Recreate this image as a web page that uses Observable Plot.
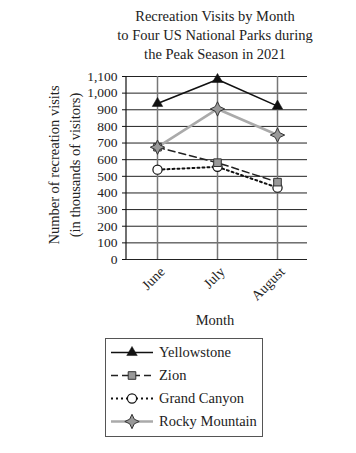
<!DOCTYPE html>
<html>
<head>
<meta charset="utf-8">
<script src="https://cdn.jsdelivr.net/npm/d3@7"></script>
<script src="https://cdn.jsdelivr.net/npm/@observablehq/plot@0.6"></script>
<style>
  html, body { margin: 0; padding: 0; background: #fff; }
  #wrap { position: relative; width: 356px; height: 453px; font-family: "Liberation Serif", serif; color: #222; overflow: hidden; }
  #title { position: absolute; left: 75px; top: 7px; width: 280px; text-align: center; font-family: "Liberation Serif", serif; font-size: 14.5px; line-height: 19px; white-space: nowrap; color: #222; }
  #chart { position: absolute; left: 0; top: 60px; }
  #chart svg, #chart svg text { font-family: "Liberation Serif", serif !important; }
  #legend { position: absolute; left: 105px; top: 338px; width: 158px; height: 99px; box-sizing: border-box; border: 1px solid #555; padding-top: 2px; }
  .row { position: relative; height: 23px; }
  .row svg { position: absolute; left: 5px; top: 0; }
  .row span { position: absolute; left: 53px; top: 2px; font-family: "Liberation Serif", serif; font-size: 14.5px; line-height: 19px; white-space: nowrap; color: #222; }
</style>
</head>
<body>
<div id="wrap">
  <div id="title">Recreation Visits by Month<br>to Four US National Parks during<br>the Peak Season in 2021</div>
  <div id="chart"></div>
  <div id="legend"></div>
</div>
<script>
const months = ["June", "July", "August"];
const yellowstone = [938, 1082, 922];
const zion = [675, 582, 465];
const grandCanyon = [540, 557, 432];
const rockyMountain = [675, 905, 748];
const yTicks = [0, 100, 200, 300, 400, 500, 600, 700, 800, 900, 1000, 1100];
const parkNames = ["Yellowstone", "Zion", "Grand Canyon", "Rocky Mountain"];
const yLabel = "Number of recreation visits\n(in thousands of visitors)";
const xLabel = "Month";

const star4 = {
  draw(ctx, size) {
    const r = Math.sqrt(size) * 0.78;
    const ri = r * 0.32;
    ctx.moveTo(0, -r); ctx.lineTo(ri, -ri); ctx.lineTo(r, 0); ctx.lineTo(ri, ri);
    ctx.lineTo(0, r); ctx.lineTo(-ri, ri); ctx.lineTo(-r, 0); ctx.lineTo(-ri, -ri);
    ctx.closePath();
  }
};

const toRows = (vals) => months.map((m, i) => ({month: m, value: vals[i]}));
const series = {
  "Yellowstone": toRows(yellowstone),
  "Zion": toRows(zion),
  "Grand Canyon": toRows(grandCanyon),
  "Rocky Mountain": toRows(rockyMountain)
};

const styles = {
  "Yellowstone": {line: {stroke: "#111", strokeWidth: 1.6}, dot: {symbol: "triangle", r: 3.9, fill: "#111", stroke: "#111", strokeWidth: 0.5}},
  "Zion": {line: {stroke: "#222", strokeWidth: 1.5, strokeDasharray: "7,4"}, dot: {symbol: "square", r: 4.3, fill: "#999", stroke: "#333", strokeWidth: 1}},
  "Grand Canyon": {line: {stroke: "#111", strokeWidth: 2, strokeDasharray: "2,3"}, dot: {symbol: "circle", r: 4.6, fill: "#fff", stroke: "#111", strokeWidth: 1.2}},
  "Rocky Mountain": {line: {stroke: "#aaa", strokeWidth: 2.6}, dot: {symbol: star4, r: 5.2, fill: "#999", stroke: "#333", strokeWidth: 1}}
};
const drawOrder = ["Yellowstone", "Grand Canyon", "Zion", "Rocky Mountain"];

const yAxisLine = (index, scales, values, dims) => {
  const g = d3.create("svg:g");
  g.append("line")
    .attr("x1", dims.marginLeft).attr("x2", dims.marginLeft)
    .attr("y1", dims.marginTop).attr("y2", dims.height - dims.marginBottom)
    .attr("stroke", "#111").attr("stroke-width", 1.2);
  return g.node();
};

const serif = "Liberation Serif, serif";
const marks = [
  Plot.ruleY(yTicks, {stroke: "#222", strokeWidth: 1}),
  Plot.ruleX(months, {stroke: "#777", strokeWidth: 1.5}),
  yAxisLine,
  Plot.axisY({ticks: yTicks, tickFormat: d3.format(","), tickSize: 4, tickPadding: 5, fontSize: 13.5, fontFamily: serif, label: null, stroke: "#111", fill: "#222"}),
  Plot.axisX({tickRotate: -45, tickSize: 0, tickPadding: 10, dx: 5, fontSize: 14, fontFamily: serif, label: null, fill: "#222"}),
  Plot.text([yLabel], {frameAnchor: "left", textAnchor: "middle", lineAnchor: "middle", dx: -64, dy: -3, rotate: -90, fontSize: 14.5, fontFamily: serif, lineHeight: 1.45, fill: "#222"}),
  Plot.text([xLabel], {frameAnchor: "bottom", lineAnchor: "middle", dy: 61, dx: -2, fontSize: 14.5, fontFamily: serif, fill: "#222"})
];
for (const name of drawOrder) {
  const s = styles[name];
  marks.push(Plot.line(series[name], {x: "month", y: "value", ...s.line}));
}
for (const name of drawOrder) {
  const s = styles[name];
  marks.push(Plot.dot(series[name], {x: "month", y: "value", ...s.dot}));
}

const chart = Plot.plot({
  width: 356,
  height: 280,
  marginLeft: 126,
  marginRight: 49,
  marginTop: 16,
  marginBottom: 81,
  x: {type: "point", domain: months, padding: 0.5},
  y: {domain: [0, 1100]},
  style: {fontFamily: serif, fontSize: "14px", color: "#222", background: "transparent", overflow: "visible"},
  marks
});
document.getElementById("chart").appendChild(chart);

// Legend
const legend = d3.select("#legend");
for (const name of parkNames) {
  const s = styles[name];
  const row = legend.append("div").attr("class", "row");
  const svg = row.append("svg").attr("width", 42).attr("height", 23);
  svg.append("line").attr("x1", 0).attr("x2", 42).attr("y1", 11.5).attr("y2", 11.5)
    .attr("stroke", s.line.stroke).attr("stroke-width", s.line.strokeWidth)
    .attr("stroke-dasharray", s.line.strokeDasharray || null);
  const symType = typeof s.dot.symbol === "string"
    ? {triangle: d3.symbolTriangle, square: d3.symbolSquare, circle: d3.symbolCircle}[s.dot.symbol]
    : s.dot.symbol;
  svg.append("path").attr("transform", "translate(21,11.5)")
    .attr("d", d3.symbol(symType, s.dot.r * s.dot.r * Math.PI)())
    .attr("fill", s.dot.fill).attr("stroke", s.dot.stroke).attr("stroke-width", s.dot.strokeWidth);
  row.append("span").text(name);
}
</script>
</body>
</html>
